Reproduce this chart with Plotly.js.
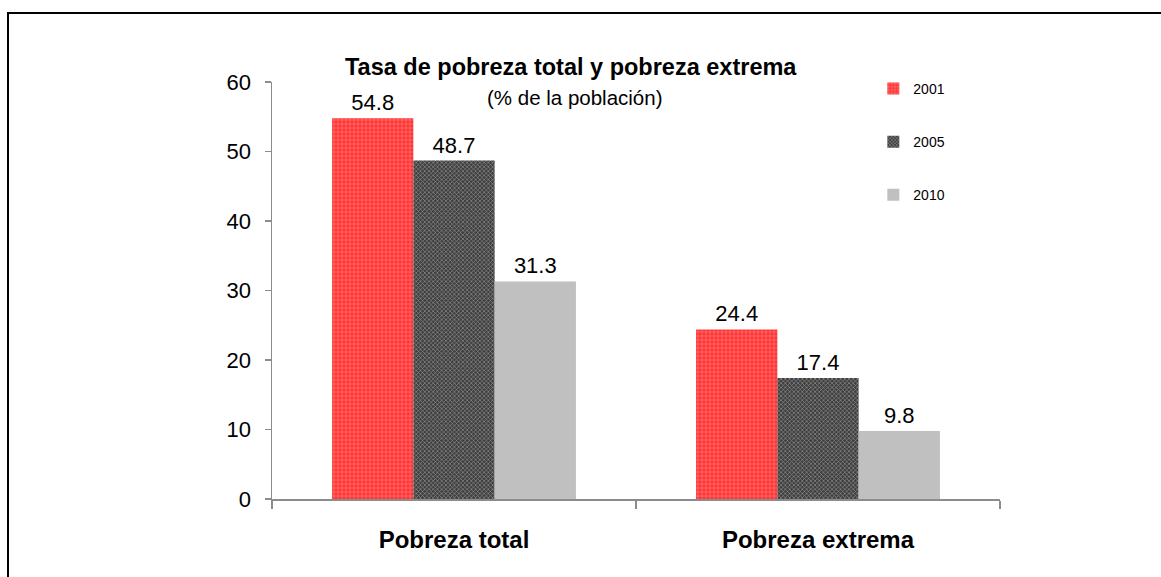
<!DOCTYPE html>
<html>
<head>
<meta charset="utf-8">
<script src="https://cdn.plot.ly/plotly-3.0.1.min.js"></script>
<style>
html,body{margin:0;padding:0;background:#fff;overflow:hidden;}
#frame{position:absolute;left:7px;top:12px;width:1200px;height:600px;border-top:2px solid #000;border-left:2px solid #000;pointer-events:none;}
#chart{position:absolute;left:0;top:0;width:1161px;height:577px;}
</style>
</head>
<body>
<div id="chart"></div>
<div id="frame"></div>
<script>
const categories = ["Pobreza total", "Pobreza extrema"];
const years = ["2001", "2005", "2010"];
const v2001 = [54.8, 24.4];
const v2005 = [48.7, 17.4];
const v2010 = [31.3, 9.8];
const yTicks = [0, 10, 20, 30, 40, 50, 60];

const font = "Liberation Sans, Arial, sans-serif";
function mk(name, vals, marker, grp) {
  return {
    type: "bar", name: name, x: categories, y: vals,
    text: vals.map(v => v.toFixed(1)), textposition: "outside",
    textfont: {family: font, size: 22, color: "#000"},
    constraintext: "none",
    cliponaxis: false, marker: marker, legendgroup: grp
  };
}
const traces = [
  mk(years[0], v2001, {color: "#ff3333", pattern: {shape: "+", bgcolor: "#ff3535", fgcolor: "#ff9a9a", size: 4, solidity: 0.2}, line: {width: 0}}, "a"),
  mk(years[1], v2005, {color: "#4d4d4d", pattern: {shape: "x", bgcolor: "#3e3e3e", fgcolor: "#9a9a9a", size: 3, solidity: 0.35}, line: {width: 0}}, "b"),
  mk(years[2], v2010, {color: "#c0c0c0", line: {width: 0}}, "c")
];

const layout = {
  width: 1161, height: 577,
  margin: {l: 272, r: 161, t: 82, b: 78},
  paper_bgcolor: "#fff", plot_bgcolor: "#fff",
  barmode: "group", bargap: 0.33, bargroupgap: 0,
  showlegend: true,
  legend: {x: 0.826, y: 1.022, xanchor: "left", yanchor: "top", tracegroupgap: 32,
           font: {family: font, size: 14, color: "#000"}, bgcolor: "rgba(0,0,0,0)"},
  xaxis: {
    showline: true, linecolor: "#8c8c8c", linewidth: 1.5,
    ticks: "outside", tickson: "boundaries", ticklen: 8, tickcolor: "#8c8c8c", tickwidth: 1.5,
    tickfont: {family: font, size: 24, color: "#000", weight: "bold"},
    ticklabelstandoff: 19,
    showgrid: false, zeroline: false
  },
  yaxis: {
    range: [0, 60], tickvals: yTicks, ticktext: yTicks.map(String),
    showline: true, linecolor: "#8c8c8c", linewidth: 1.5,
    ticks: "outside", ticklen: 6, tickcolor: "#8c8c8c", tickwidth: 1.5,
    tickfont: {family: font, size: 22, color: "#000"},
    ticklabelstandoff: 9,
    showgrid: false, zeroline: false
  },
  annotations: [
    {text: "<b>Tasa de pobreza total y pobreza extrema</b>", xref: "paper", yref: "paper",
     x: (571 - 272) / 728, y: (499 - 67) / 417, xanchor: "center", yanchor: "middle", showarrow: false,
     font: {family: font, size: 23.5, color: "#000"}},
    {text: "(% de la población)", xref: "paper", yref: "paper",
     x: (575 - 272) / 728, y: (499 - 97) / 417, xanchor: "center", yanchor: "middle", showarrow: false,
     font: {family: font, size: 20.5, color: "#000"}}
  ]
};
Plotly.newPlot("chart", traces, layout, {displayModeBar: false, staticPlot: true});
</script>
</body>
</html>
